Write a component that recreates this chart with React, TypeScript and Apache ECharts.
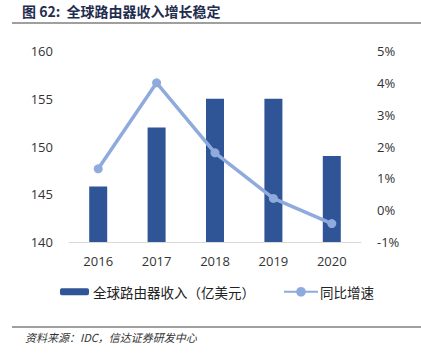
import React, { useEffect, useRef } from "react";
import * as echarts from "echarts";

const categories = ["2016", "2017", "2018", "2019", "2020"];
const revenue = [145.8, 152.0, 155.0, 155.0, 149.0];
const growth = [1.3, 4.0, 1.8, 0.37, -0.42];
const titleText = "图 62:  全球路由器收入增长稳定";
const sourceText = "资料来源：IDC，信达证券研发中心";
const barName = "全球路由器收入（亿美元）";
const lineName = "同比增速";

const CJK = '"Noto Sans CJK SC", "Noto Sans", sans-serif';
const NUM = '"Open Sans", "Noto Sans", sans-serif';

export default function App() {
  const ref = useRef<HTMLDivElement>(null);
  useEffect(() => {
    if (!ref.current) return;
    const chart = echarts.init(ref.current, undefined, { renderer: "svg" });
    chart.setOption({
      animation: false,
      backgroundColor: "#ffffff",
      grid: { left: 69, right: 60, top: 51, bottom: 112, containLabel: false },
      graphic: [
        {
          type: "text",
          left: 22,
          top: 4,
          style: { text: titleText, font: `bold 14px ${CJK}`, fill: "#1f2d4e" },
        },
        {
          type: "line",
          shape: { x1: 12, y1: 23, x2: 421, y2: 23 },
          style: { stroke: "#7f7f7f", lineWidth: 1.5 },
        },
        {
          type: "line",
          shape: { x1: 12, y1: 327, x2: 421, y2: 327 },
          style: { stroke: "#7f7f7f", lineWidth: 1.5 },
        },
        {
          type: "text",
          left: 25,
          top: 331,
          style: { text: sourceText, font: `italic 11px ${CJK}`, fill: "#333333" },
        },
      ],
      legend: [
        {
          data: [barName],
          left: 60,
          top: 285,
          itemWidth: 29,
          itemHeight: 7,
          itemGap: 4,
          textStyle: { fontFamily: CJK, fontSize: 13.5, color: "#222222", padding: [0, 0, 0, -1] },
          padding: 0,
        },
        {
          data: [lineName],
          left: 283,
          top: 285,
          itemWidth: 34,
          itemHeight: 12,
          textStyle: { fontFamily: CJK, fontSize: 13.5, color: "#222222", padding: [0, 0, 0, -3] },
          padding: 0,
        },
      ],
      xAxis: {
        type: "category",
        data: categories,
        axisLine: { onZero: false, lineStyle: { color: "#d9d9d9", width: 1 } },
        axisTick: { show: false },
        axisLabel: { fontFamily: NUM, fontSize: 13, color: "#333333", margin: 12 },
      },
      yAxis: [
        {
          type: "value",
          min: 140,
          max: 160,
          interval: 5,
          splitLine: { show: false },
          axisLine: { show: false },
          axisTick: { show: false },
          axisLabel: { fontFamily: NUM, fontSize: 13, color: "#333333", margin: 16 },
        },
        {
          type: "value",
          min: -1,
          max: 5,
          interval: 1,
          splitLine: { show: false },
          axisLine: { show: false },
          axisTick: { show: false },
          axisLabel: {
            fontFamily: NUM,
            fontSize: 13,
            color: "#333333",
            margin: 16,
            formatter: (v: number) => `${v}%`,
          },
        },
      ],
      series: [
        {
          name: barName,
          type: "bar",
          data: revenue,
          barWidth: 18,
          itemStyle: { color: "#2f5597" },
        },
        {
          name: lineName,
          type: "line",
          yAxisIndex: 1,
          data: growth,
          symbol: "circle",
          symbolSize: 9,
          lineStyle: { color: "#8faadc", width: 3.5 },
          itemStyle: { color: "#8faadc" },
        },
      ],
    });
    return () => chart.dispose();
  }, []);
  return <div ref={ref} style={{ width: 421, height: 354, position: "absolute", left: 0, top: 0 }} />;
}
